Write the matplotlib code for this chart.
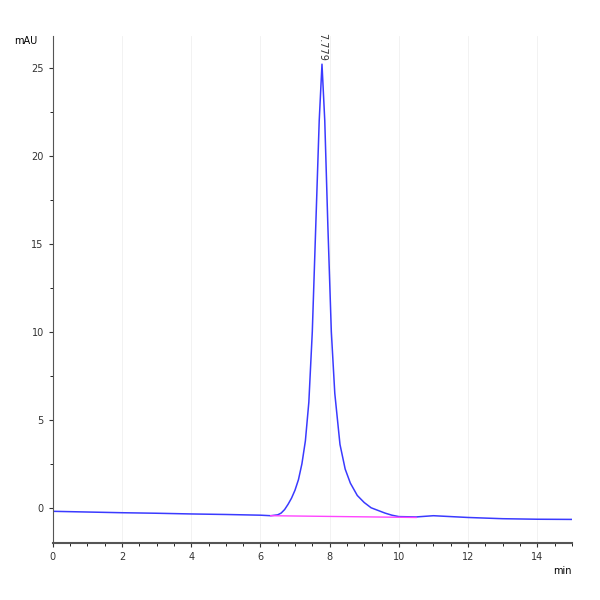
import numpy as np
import matplotlib.pyplot as plt
from matplotlib.ticker import MultipleLocator

t = [0, 1, 2, 3, 4, 5, 6, 6.3, 6.5, 6.6, 6.7, 6.8, 6.9, 7.0, 7.1, 7.2, 7.3, 7.4, 7.5, 7.6, 7.7, 7.78,
     7.86, 7.95, 8.05, 8.15, 8.3, 8.45, 8.6, 8.8, 9.0, 9.2, 9.4, 9.6, 9.8, 10.0, 10.5, 11.0, 12, 13, 14, 15]
signal = [-0.2, -0.24, -0.28, -0.31, -0.35, -0.38, -0.42, -0.45, -0.4, -0.3, -0.1, 0.2, 0.55, 1.0, 1.6, 2.5,
          3.8, 6.0, 10.0, 16.0, 22.0, 25.2, 22.0, 16.0, 10.0, 6.5, 3.6, 2.2, 1.4, 0.7, 0.3, 0.0, -0.15, -0.3,
          -0.42, -0.5, -0.52, -0.45, -0.55, -0.62, -0.65, -0.66]
base_t = [6.3, 10.5]
base_y = [-0.45, -0.55]
peak_t = 7.779
peak_y = 25.2

fig = plt.figure(figsize=(6, 6), dpi=100)
ax = fig.add_axes([0.088, 0.095, 0.865, 0.845])
ax.plot(t, signal, color='#3a3aff', lw=1.1)
ax.plot(base_t, base_y, color='#ff44ff', lw=1.0)
ax.text(peak_t, peak_y + 0.2, '7.779', rotation=-90, ha='center', va='bottom', fontsize=7, color='#333333')

ax.set_xlim(0, 15)
ax.set_ylim(-2, 26.8)
ax.xaxis.set_major_locator(MultipleLocator(2))
ax.xaxis.set_minor_locator(MultipleLocator(0.5))
ax.yaxis.set_major_locator(MultipleLocator(5))
ax.yaxis.set_minor_locator(MultipleLocator(2.5))
for s in ['top', 'right']:
    ax.spines[s].set_visible(False)
ax.spines['left'].set_color('#555555')
ax.spines['bottom'].set_color('#555555')
ax.spines['bottom'].set_linewidth(1.5)
ax.tick_params(labelsize=7, colors='#333333', length=3)
ax.tick_params(which='minor', length=2)
ax.grid(axis='x', color='#f0f0f0', lw=0.6)
ax.text(-0.03, 1.0, 'mAU', transform=ax.transAxes, ha='right', va='top', fontsize=7)
ax.text(1.0, -0.045, 'min', transform=ax.transAxes, ha='right', va='top', fontsize=7)
fig.savefig('out.png')
